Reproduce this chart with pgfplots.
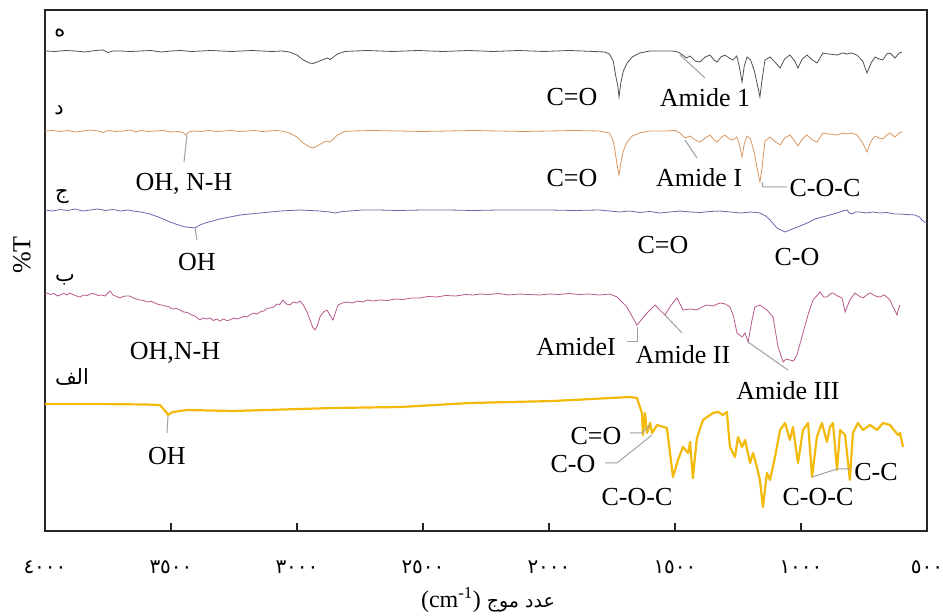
\documentclass[border=0pt]{standalone}
\usepackage{fontspec}
\setmainfont{Liberation Serif}
\newfontfamily\arabicfont[Script=Arabic]{DejaVu Sans}
\usepackage{pgfplots}
\pgfplotsset{compat=1.18}
\TeXXeTstate=1
\definecolor{trE}{RGB}{80,80,80}
\definecolor{trD}{RGB}{214,150,96}
\definecolor{trC}{RGB}{112,100,168}
\definecolor{trB}{RGB}{184,88,140}
\definecolor{trA}{RGB}{242,186,12}
\definecolor{lead}{RGB}{160,160,160}
\newcommand\lab{\fontsize{26}{28}\selectfont}
\newcommand\arl{\arabicfont\fontsize{21}{22}\selectfont}

\begin{document}
\begin{tikzpicture}
\begin{axis}[
  scale only axis, width=882pt, height=521pt,
  xmin=500, xmax=4000, ymin=0, ymax=521,
  x dir=reverse,
  axis line style={black!85, line width=1.3pt},
  xtick={500,1000,1500,2000,2500,3000,3500,4000},
  xticklabels={\mbox{٥٠٠},\mbox{١٠٠٠},\mbox{١٥٠٠},\mbox{٢٠٠٠},\mbox{٢٥٠٠},\mbox{٣٠٠٠},\mbox{٣٥٠٠},\mbox{٤٠٠٠}},
  xticklabel style={font=\arabicfont\fontsize{20}{20}\selectfont, anchor=center, yshift=-36pt},
  xtick pos=bottom, tick align=inside,
  major tick length=8pt,
  tick style={black!85, line width=1.2pt},
  ytick=\empty,
  clip=true,
]
% ه
\addplot[trE, line width=0.8pt] coordinates {
(4000,480)(3960,479.5)(3920,480.5)(3880,480)(3840,479)(3800,480.5)(3770,481)(3750,478.5)(3730,480)(3700,480)
(3660,479.5)(3620,480)(3580,480.5)(3540,479)(3500,480)(3460,480.5)(3420,479.5)(3380,480)(3340,480.5)(3300,480)
(3260,479.5)(3220,480)(3180,480.5)(3140,480)(3100,479.5)(3060,480)(3030,479)(3000,476)(2975,471)(2950,468)
(2937,467.5)(2920,469)(2900,471)(2880,473)(2868,471.5)(2855,474)(2840,477)(2810,479.5)(2770,480)(2720,480.5)
(2670,480)(2620,479.5)(2570,480)(2520,480.5)(2470,480)(2420,479.5)(2370,480)(2320,480.5)(2270,480)(2220,479.5)
(2170,480)(2120,480.5)(2070,480)(2020,479.5)(1970,480)(1920,480.5)(1870,480)(1820,479.5)(1780,479)(1760,477)
(1745,470)(1735,455)(1727,445)(1722,434)(1715,448)(1705,460)(1690,468)(1670,474)(1640,478)(1600,480)
(1560,480)(1510,480)(1488,479)(1470,476)(1455,473)(1440,475)(1420,470)(1401,469)(1380,474)(1361,476)
(1345,471)(1333,469)(1318,474)(1302,476)(1285,473)(1270,471)(1255,475)(1245,465)(1234,449)(1225,465)
(1214,474)(1200,471)(1185,460)(1172,445)(1163,434)(1155,450)(1143,471)(1123,474)(1100,468)(1083,463)
(1065,472)(1044,476)(1025,470)(1012,463)(995,472)(976,476)(955,471)(936,468)(913,478)(890,477)
(857,476)(835,478)(817,477)(800,478)(778,476)(755,470)(738,458)(722,468)(706,474)(690,472)
(675,471)(660,477)(647,478)(627,473)(610,478)(599,479)
};
% د
\addplot[trD, line width=0.8pt] coordinates {
(4000,400)(3970,400.5)(3940,399.5)(3910,400.5)(3880,399)(3850,400)(3820,401)(3790,400)(3770,398.5)(3750,400.5)
(3720,399.5)(3690,400)(3660,401)(3640,399)(3620,400.5)(3590,399.5)(3560,400)(3530,400.5)(3500,399)(3470,399.5)
(3450,398)(3441,396)(3430,399)(3410,400)(3380,399.5)(3350,400.5)(3320,399.5)(3290,400)(3260,400.5)(3230,399.5)
(3200,400)(3170,400.5)(3140,399.5)(3110,400)(3080,400.5)(3050,399.5)(3030,398)(3000,394)(2975,388)(2950,384)
(2937,383)(2920,385)(2900,388)(2885,390)(2869,389)(2855,392)(2840,396)(2810,399.5)(2780,400)(2700,400.5)
(2600,400)(2500,399.5)(2400,400)(2300,400.5)(2200,400)(2100,399.5)(2000,400)(1900,400.5)(1800,400)(1760,398)
(1745,390)(1735,375)(1727,362)(1722,356)(1715,368)(1705,380)(1690,389)(1670,395)(1640,398)(1600,400)
(1540,400)(1500,400.5)(1480,398)(1460,393)(1440,395)(1420,391)(1401,389)(1380,393)(1361,396)(1345,391)
(1333,389)(1318,393)(1302,396)(1285,392)(1270,391)(1255,394)(1245,387)(1234,374)(1225,387)(1214,395)
(1200,392)(1185,378)(1172,360)(1163,349)(1155,362)(1143,390)(1123,394)(1100,389)(1083,386)(1065,393)
(1044,396)(1025,390)(1012,385)(995,392)(976,396)(955,391)(936,389)(913,398)(890,397)(857,396)
(835,398)(817,397)(800,398)(778,396)(755,388)(738,379)(722,390)(706,395)(690,393)(675,392)
(660,396)(647,398)(627,394)(610,398)(599,399)
};
% ج
\addplot[trC, line width=0.8pt] coordinates {
(4000,321)(3970,320)(3940,321.5)(3910,320.5)(3880,322)(3850,320)(3820,321)(3790,322)(3760,320.5)(3730,321.5)
(3700,320)(3670,321)(3651,320)(3620,319)(3583,317)(3540,313)(3504,309)(3470,306)(3444,304)(3420,303.5)
(3405,303)(3385,306)(3365,308)(3335,310)(3306,312)(3266,314)(3226,316)(3187,317)(3147,318)(3107,319)
(3067,320)(3028,320.5)(2988,321)(2948,320.5)(2909,320)(2870,319)(2849,318)(2820,319.5)(2790,320)(2740,321)
(2680,321)(2600,320.5)(2500,321)(2400,321)(2300,320.5)(2200,321)(2100,321)(2000,321)(1900,320.5)(1800,321)
(1760,320)(1720,319)(1680,320)(1640,318.5)(1600,319.5)(1560,318)(1520,319)(1480,320)(1440,319)(1400,318.5)
(1360,319.5)(1320,320)(1280,319)(1240,318)(1200,319)(1163,318)(1140,315)(1123,311)(1095,303)(1075,300.5)
(1063,299)(1044,301)(1024,303)(1004,305)(975,308)(944,312)(915,314)(885,316)(865,317.5)(845,319)
(830,320.5)(817,321)(808,318)(798,317)(785,319)(766,319)(740,318)(715,319)(687,318)(660,318.5)
(630,317)(607,317)(580,316.5)(548,316)(530,314)(520,311)(510,309)(500,308)
};
% ب
\addplot[trB, line width=0.8pt] coordinates {
(4000,237)(3992,238)(3978,236.5)(3965,237.5)(3950,235)(3940,236)(3925,237.5)(3912,236)(3901,238)(3890,236.5)
(3875,235)(3861,234)(3848,236)(3832,235.5)(3815,237.5)(3802,237)(3790,235.5)(3775,236)(3762,235)(3752,237.5)
(3742,240)(3730,236)(3716,234.5)(3702,233)(3690,234.5)(3677,235)(3663,235)(3650,233)(3636,232)(3623,231)
(3608,230.5)(3595,229)(3578,229.5)(3563,228)(3550,226.5)(3537,226)(3524,225)(3510,224.5)(3495,222)(3478,222.5)
(3464,221)(3450,219)(3434,218.5)(3418,216)(3405,215)(3395,213)(3385,211)(3372,213)(3358,212)(3345,213)
(3332,210.5)(3318,212)(3306,210)(3292,212)(3280,210.5)(3266,211)(3252,213)(3240,212)(3226,213)(3212,214.5)
(3200,214)(3187,216)(3172,218)(3160,217)(3147,219)(3132,220)(3120,222.5)(3107,223)(3092,224)(3079,227)
(3068,226.5)(3056,231)(3042,227)(3028,226)(3015,229)(3000,228)(2988,230)(2975,226)(2960,219)(2948,211)
(2938,204)(2929,201)(2918,206)(2909,214)(2895,219)(2881,221)(2869,216)(2857,211)(2848,218)(2837,226)
(2820,228)(2802,229)(2780,228)(2760,230)(2740,229)(2720,231)(2700,230)(2671,231)(2640,230.5)(2610,232)
(2580,231.5)(2545,233)(2512,233)(2480,234.5)(2445,234)(2410,235.5)(2370,235)(2330,236.5)(2300,236)(2274,237)
(2240,236.5)(2200,237.5)(2160,236)(2120,237)(2080,236.5)(2036,236)(2000,237)(1960,236.5)(1920,237.5)(1880,236.5)
(1840,237)(1800,236)(1758,237)(1730,234)(1691,224)(1651,206)(1631,212)(1611,218)(1595,222)(1579,226)
(1560,221)(1540,216)(1515,226)(1492,233)(1468,221)(1440,222)(1413,221)(1393,224)(1373,226)(1350,225)
(1321,228)(1300,227)(1282,224)(1268,215)(1254,198)(1234,194)(1222,198)(1210,189)(1195,210)(1183,224)
(1163,226)(1135,221)(1111,214)(1091,184)(1071,169)(1060,172)(1044,171)(1030,170)(1016,176)(992,198)
(970,218)(952,231)(925,239)(910,234)(897,234)(885,237)(873,238)(855,235)(837,233)(825,219)
(806,231)(786,238)(770,235)(754,233)(740,236)(726,238)(705,235)(687,234)(670,236)(655,233)
(645,230)(635,224)(626,220)(619,216)(613,222)(607,226)
};
% الف
\addplot[trA, line width=2.2pt, line join=round] coordinates {
(4000,127)(3800,127)(3600,126.5)(3544,126)(3530,122)(3516,118)(3512,116)(3500,118)(3492,119)(3437,121)
(3254,120)(2988,122)(2857,123)(2591,124)(2313,128)(1984,130)(1679,134)(1651,133)(1639,124)(1631,118)
(1627,96)(1619,118)(1611,98)(1599,108)(1591,98)(1571,106)(1532,103)(1508,54)(1488,71)(1468,84)
(1448,78)(1440,89)(1429,53)(1413,93)(1389,111)(1349,118)(1329,119)(1310,116)(1294,119)(1282,84)
(1262,74)(1250,94)(1234,84)(1222,91)(1202,68)(1190,78)(1175,64)(1163,51)(1151,24)(1135,58)
(1123,51)(1103,74)(1083,101)(1063,108)(1044,91)(1032,104)(1012,68)(992,101)(972,108)(956,54)
(937,94)(917,108)(897,89)(885,104)(873,108)(857,61)(845,101)(825,96)(806,51)(794,98)
(774,108)(754,101)(726,106)(698,101)(675,108)(647,106)(615,96)(607,98)(595,84)
};
\end{axis}
% annotations, in picture pixels (origin top left of the image)
\begin{scope}[shift={(-45pt,531pt)}, x=1pt, y=-1pt]
\node[rotate=90, font=\lab] at (22,255) {\%T};
\node[font=\lab\fontsize{24}{26}\selectfont] at (488,600) {(cm\textsuperscript{-1}) {\arabicfont\fontsize{19}{20}\selectfont\beginR عدد موج\endR}};
% trace names
\node[font=\arl] at (60,33) {ه};
\node[font=\arl] at (59,110) {د};
\node[font=\arl] at (62,197) {ج};
\node[font=\arl] at (65,280) {ب};
\node[font=\arl] at (72,377) {\beginR الف\endR};
% leader lines
\begin{scope}[lead, line width=1pt]
\draw (680,55) -- (705,78);
\draw (187,135) -- (184,162);
\draw (685,140) -- (697,158);
\draw (762,182) -- (763,187) -- (787,187);
\draw (195,228) -- (197,240);
\draw (637,327) -- (637,342) -- (627,342);
\draw (665,315) -- (682,333);
\draw (748,342) -- (788,370);
\draw (168,416) -- (167,433);
\draw (630,433) -- (642,433) -- (650,425);
\draw (605,463) -- (617,463) -- (652,435);
\draw (812,477) -- (837,469) -- (850,469);
\end{scope}
% group labels
\begin{scope}[every node/.style={font=\lab, inner sep=0pt}]
\node at (572,97) {C=O};
\node at (705,98) {Amide 1};
\node at (184,184) {OH, N-H};
\node at (572,178) {C=O};
\node at (699,178) {Amide I};
\node at (825,188) {C-O-C};
\node at (197,262) {OH};
\node at (663,245) {C=O};
\node at (797,257) {C-O};
\node at (175,353) {OH,N-H};
\node at (576,347) {AmideI};
\node at (683,355) {Amide II};
\node at (788,391) {Amide III};
\node at (167,456) {OH};
\node at (596,436) {C=O};
\node at (573,464) {C-O};
\node at (637,497) {C-O-C};
\node at (818,497) {C-O-C};
\node at (876,472) {C-C};
\end{scope}
\end{scope}
\pgfresetboundingbox
\begin{scope}[shift={(-45pt,531pt)}, x=1pt, y=-1pt]
\path (0,0) rectangle (943,616);
\end{scope}
\end{tikzpicture}
\end{document}
